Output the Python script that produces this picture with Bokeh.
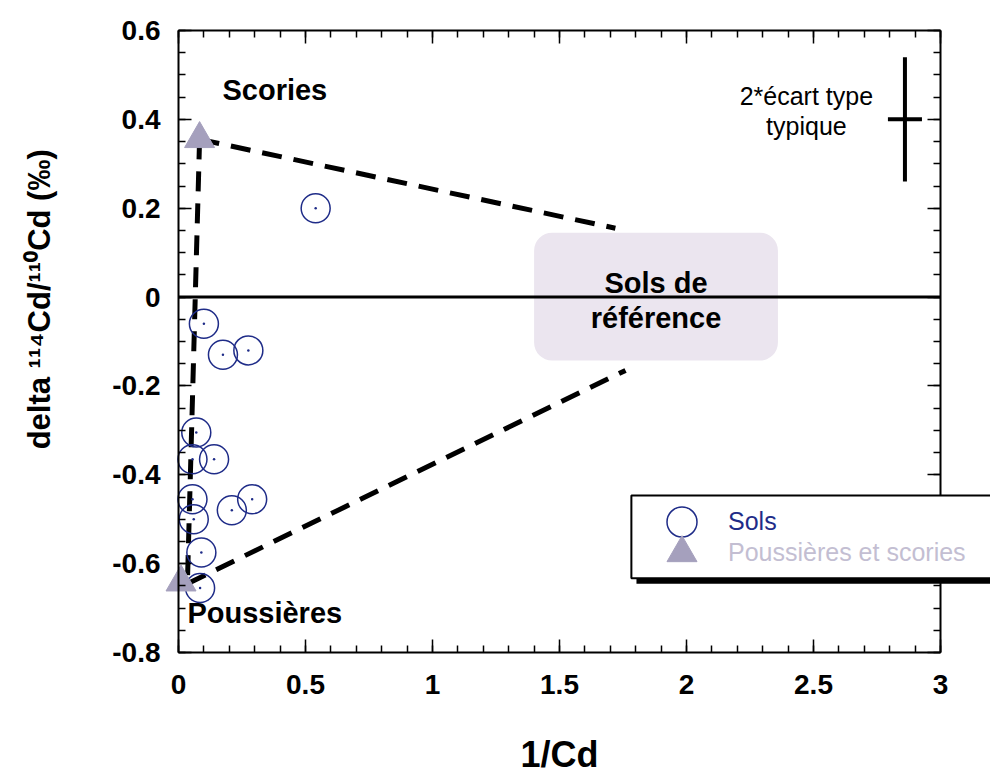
import numpy as np
from math import pi
from bokeh.plotting import figure
from bokeh.models import (FixedTicker, LinearAxis, Label, BoxAnnotation,
                          Legend, LegendItem, CustomJSTickFormatter)
from bokeh.embed import file_html
from bokeh.resources import INLINE

# ---- data ----
sols_x = [0.54, 0.10, 0.175, 0.275, 0.07, 0.055, 0.14, 0.055, 0.06, 0.21, 0.29, 0.09, 0.085]
sols_y = [0.20, -0.06, -0.13, -0.12, -0.305, -0.365, -0.365, -0.455, -0.50, -0.48, -0.455, -0.575, -0.655]
pous_x = [0.083, 0.01]
pous_y = [0.356, -0.642]
mix_xs = [[0.083, 1.72], [0.083, 0.035], [0.035, 1.76]]
mix_ys = [[0.355, 0.155], [0.355, -0.645], [-0.645, -0.165]]
zero_x = [0, 3]
zero_y = [0, 0]
err_x, err_y, err_dx, err_dy = 2.86, 0.40, 0.067, 0.14
ref_left, ref_right, ref_top, ref_bottom = 1.40, 2.36, 0.145, -0.143
x_ticks = [0, 0.5, 1, 1.5, 2, 2.5, 3]
x_tick_labels = ["0", "0.5", "1", "1.5", "2", "2.5", "3"]
y_ticks = [-0.8, -0.6, -0.4, -0.2, 0, 0.2, 0.4, 0.6]
y_tick_labels = ["-0.8", "-0.6", "-0.4", "-0.2", "0", "0.2", "0.4", "0.6"]

FONT = "Liberation Sans"
NAVY = "#1f2c88"
TRI = "#a5a0bd"

# layout: the axes box spans pixels 178..940 (x) and 30..652 (y) of a 990x774 canvas
W, H = 990, 774
AX_L, AX_R, AX_T, AX_B = 178, 940, 30, 652
sx = (AX_R - AX_L) / 3.0
sy = (AX_B - AX_T) / 1.4
x0 = 0 - AX_L / sx
x1 = 3 + (W - AX_R) / sx
y1 = 0.6 + AX_T / sy
y0 = -0.8 - (H - AX_B) / sy

p = figure(frame_width=W, frame_height=H, x_range=(x0, x1), y_range=(y0, y1),
           output_backend="svg", toolbar_location=None, title=None,
           min_border_left=0, min_border_right=0, min_border_top=0, min_border_bottom=0)
p.xgrid.visible = False
p.ygrid.visible = False
p.outline_line_color = None
p.background_fill_color = "white"
p.border_fill_color = "white"

x_minor = list(np.round(np.arange(0, 3.0001, 0.1), 2))
y_minor = list(np.round(np.arange(-0.8, 0.6001, 0.05), 2))
xt = FixedTicker(ticks=x_ticks, minor_ticks=x_minor)
yt = FixedTicker(ticks=y_ticks, minor_ticks=y_minor)

def style(ax, inward=True):
    ax.axis_line_width = 2
    ax.axis_line_color = "black"
    ax.major_tick_in = 13 if inward else 0
    ax.major_tick_out = 0 if inward else 13
    ax.minor_tick_in = 7 if inward else 0
    ax.minor_tick_out = 0 if inward else 7
    ax.major_tick_line_width = 1.5
    ax.minor_tick_line_width = 1.5
    ax.major_label_text_font = FONT
    ax.major_label_text_font_style = "bold"
    ax.major_label_text_font_size = "28px"
    ax.major_label_text_color = "black"

xa = p.xaxis[0]
xa.ticker = xt
xa.fixed_location = -0.8
xa.bounds = (0, 3)
xa.major_label_overrides = dict(zip(x_ticks, x_tick_labels))
xa.major_label_standoff = 22
style(xa)
ya = p.yaxis[0]
ya.ticker = yt
ya.fixed_location = 0
ya.bounds = (-0.8, 0.6)
ya.major_label_overrides = dict(zip(y_ticks, y_tick_labels))
ya.major_label_standoff = 18
style(ya)

# top and right frame axes (ticks pointing into the plot, no labels)
for side, tk, loc, bnd in (("below", xt, 0.6, (0, 3)), ("left", yt, 3, (-0.8, 0.6))):
    ax = LinearAxis(ticker=tk, formatter=CustomJSTickFormatter(code="return ''"),
                    fixed_location=loc, bounds=bnd)
    style(ax, inward=False)
    ax.major_label_text_font_size = "1px"
    ax.major_label_standoff = 0
    p.add_layout(ax, side)

# reference soils box
p.add_layout(BoxAnnotation(left=ref_left, right=ref_right, top=ref_top, bottom=ref_bottom,
                           fill_color="#ebe5ef", fill_alpha=1, line_color=None,
                           border_radius=18, level="underlay"))
p.line(zero_x, zero_y, line_color="black", line_width=3)

# mixing lines
p.multi_line(mix_xs, mix_ys, line_color="black", line_width=5, line_dash="20 12")

# data
r_sols = p.scatter(sols_x, sols_y, marker="circle", size=29, fill_color=None,
                   line_color=NAVY, line_width=1.5)
p.scatter(sols_x, sols_y, marker="circle", size=2.5, fill_color=NAVY, line_color=None)
r_pous = p.scatter(pous_x, pous_y, marker="triangle", size=30, fill_color=TRI,
                   line_color=TRI, line_width=1)

# typical 2 sigma
p.segment([err_x], [err_y - err_dy], [err_x], [err_y + err_dy], line_color="black", line_width=4)
p.segment([err_x - err_dx], [err_y], [err_x + err_dx], [err_y], line_color="black", line_width=4)
for t, yy in (("2*écart type", 0.453), ("typique", 0.386)):
    p.add_layout(Label(x=2.472, y=yy, text=t, text_align="center", text_baseline="middle",
                       text_font=FONT, text_font_size="25px", text_color="black"))

# text annotations
p.add_layout(Label(x=0.173, y=0.465, text="Scories", text_align="left", text_baseline="middle",
                   text_font=FONT, text_font_size="29px", text_font_style="bold", text_color="black"))
p.add_layout(Label(x=0.035, y=-0.712, text="Poussières", text_align="left", text_baseline="middle",
                   text_font=FONT, text_font_size="29px", text_font_style="bold", text_color="black"))
for t, yy in (("Sols de", 0.031), ("référence", -0.048)):
    p.add_layout(Label(x=1.88, y=yy, text=t, text_align="center", text_baseline="middle",
                       text_font=FONT, text_font_size="29px", text_font_style="bold",
                       text_color="black"))

# axis titles
p.add_layout(Label(x=1.5, y=-1.03, text="1/Cd", text_align="center", text_baseline="middle",
                   text_font=FONT, text_font_size="36px", text_font_style="bold", text_color="black"))
p.add_layout(Label(x=-0.547, y=-0.005, text="delta ¹¹⁴Cd/¹¹⁰Cd (‰)", angle=pi / 2,
                   text_align="center", text_baseline="middle",
                   text_font=FONT, text_font_size="31px", text_font_style="bold", text_color="black"))

# legend box with shadow
p.add_layout(BoxAnnotation(left=1.803, right=x1 + 0.2, top=-0.458, bottom=-0.645,
                           fill_color="black", fill_alpha=1, line_color=None, level="annotation"))
p.add_layout(BoxAnnotation(left=1.783, right=x1 + 0.2, top=-0.4466, bottom=-0.633,
                           fill_color="white", fill_alpha=1, line_color="black", line_alpha=1,
                           line_width=2, level="annotation"))

def mk_legend(item, color, loc):
    lg = Legend(items=[item], location=loc, padding=0, margin=0, glyph_width=75, glyph_height=75,
                label_standoff=9, label_text_font=FONT, label_text_font_size="25px",
                label_text_color=color, background_fill_alpha=0, border_line_color=None,
                label_height=30, spacing=0)
    p.add_layout(lg)

mk_legend(LegendItem(label="Sols", renderers=[r_sols]), NAVY, (644, 215))
mk_legend(LegendItem(label="Poussières et scories", renderers=[r_pous]), "#c3bed2", (644, 184))

open("out.html", "w").write(file_html(p, INLINE))
